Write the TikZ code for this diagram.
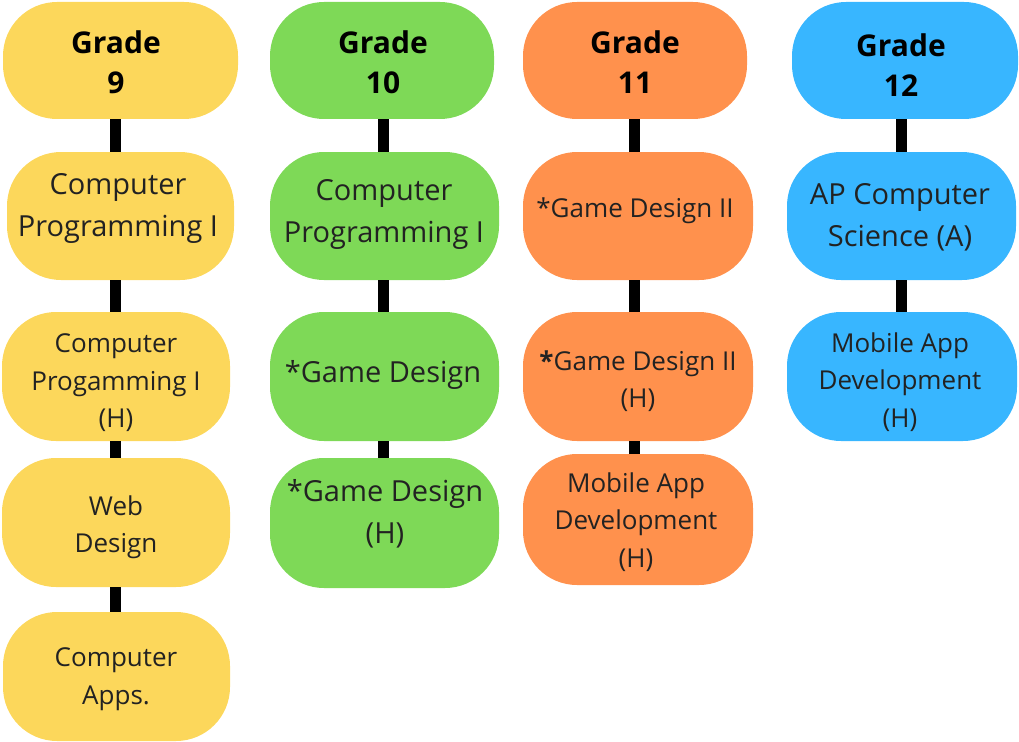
\documentclass[tikz,border=0pt]{standalone}
\usepackage{fontspec}
\setmainfont{Open Sans}
\definecolor{cyellow}{HTML}{FCD75B}
\definecolor{cgreen}{HTML}{7ED957}
\definecolor{corange}{HTML}{FF914D}
\definecolor{cblue}{HTML}{38B6FF}
\definecolor{ctext}{HTML}{222222}
\tikzset{
  box/.style={rectangle, rounded corners=54pt, draw=none, inner sep=0pt, outer sep=0pt},
  hdr/.style={align=center, font=\fontsize{30}{40}\selectfont\bfseries, text=black, inner sep=0pt},
  big/.style={align=center, font=\fontsize{29}{42}\selectfont, text=ctext, inner sep=0pt},
  small/.style={align=center, font=\fontsize{26}{37.5}\selectfont, text=ctext, inner sep=0pt},
  link/.style={line width=11pt, black},
}
\newcommand{\mybox}[6]{% name, color, x1, y1, x2, y2
  \path[box, fill=#2] (#3,#4) rectangle (#5,#6);
  \node[inner sep=0pt, minimum width={(#5-#3)*1pt}, minimum height={(#6-#4)*1pt}] (#1) at ({(#3+#5)/2},{(#4+#6)/2}) {};
}
\begin{document}
\begin{tikzpicture}[x=1pt, y=-1pt]
\useasboundingbox (0,0) rectangle (1019,741);
% ---- boxes ----
\mybox{y0}{cyellow}{3}{2}{238}{119}
\mybox{y1}{cyellow}{7}{152}{234}{280}
\mybox{y2}{cyellow}{2}{312}{230}{441}
\mybox{y3}{cyellow}{2}{458}{230}{587}
\mybox{y4}{cyellow}{3}{612}{230}{741}
\mybox{g0}{cgreen}{270}{2}{494}{119}
\mybox{g1}{cgreen}{270}{152}{499}{280}
\mybox{g2}{cgreen}{270}{312}{499}{441}
\mybox{g3}{cgreen}{270}{458}{499}{588}
\mybox{o0}{corange}{523}{2}{747}{119}
\mybox{o1}{corange}{523}{152}{753}{280}
\mybox{o2}{corange}{523}{312}{753}{441}
\mybox{o3}{corange}{523}{454}{753}{585}
\mybox{b0}{cblue}{792}{2}{1018}{119}
\mybox{b1}{cblue}{787}{152}{1016}{280}
\mybox{b2}{cblue}{787}{312}{1017}{441}
% ---- connectors ----
\draw[link] (y0.south -| 115.5,0) -- (y1.north -| 115.5,0);
\draw[link] (y1.south -| 115.5,0) -- (y2.north -| 115.5,0);
\draw[link] (y2.south -| 115.5,0) -- (y3.north -| 115.5,0);
\draw[link] (y3.south -| 115.5,0) -- (y4.north -| 115.5,0);
\draw[link] (g0.south -| 383,0) -- (g1.north -| 383,0);
\draw[link] (g1.south -| 383,0) -- (g2.north -| 383,0);
\draw[link] (g2.south -| 383,0) -- (g3.north -| 383,0);
\draw[link] (o0.south -| 634.5,0) -- (o1.north -| 634.5,0);
\draw[link] (o1.south -| 634.5,0) -- (o2.north -| 634.5,0);
\draw[link] (o2.south -| 634.5,0) -- (o3.north -| 634.5,0);
\draw[link] (b0.south -| 901,0) -- (b1.north -| 901,0);
\draw[link] (b1.south -| 901,0) -- (b2.north -| 901,0);
% ---- texts ----
\node[hdr] (y0t) at (116,62) {Grade\\9};
\node[big] (y1t) at (118,208) {Computer\\Programming I};
\node[small] (y2t) at (116,383) {Computer\\Progamming I\\(H)};
\node[small] (y3t) at (116,527) {Web\\Design};
\node[small] (y4t) at (116,679) {Computer\\Apps.};
\node[hdr] (g0t) at (383,62) {Grade\\10};
\node[big] (g1t) at (384,214) {Computer\\Programming I};
\node[big] (g2t) at (383,375) {*Game Design};
\node[big] (g3t) at (385,514) {*Game Design\\(H)};
\node[hdr] (o0t) at (635,62) {Grade\\11};
\node[small] (o1t) at (635,211) {*Game Design II};
\node[small] (o2t) at (638,381) {{\bfseries*}Game Design II\\(H)};
\node[small] (o3t) at (636,522) {Mobile App\\Development\\(H)};
\node[hdr] (b0t) at (901,65) {Grade\\12};
\node[big] (b1t) at (900,217) {AP Computer\\Science (A)};
\node[small] (b2t) at (900,382) {Mobile App\\Development\\(H)};
\end{tikzpicture}
\end{document}
